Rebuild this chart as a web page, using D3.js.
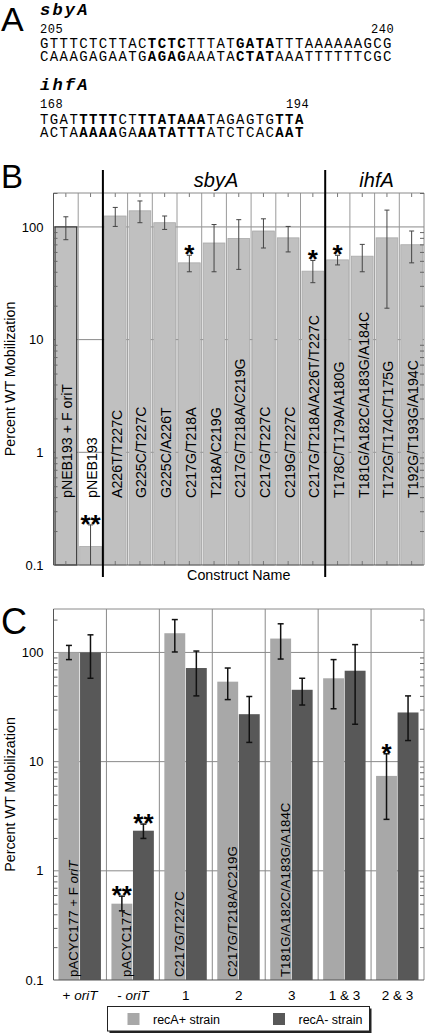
<!DOCTYPE html>
<html>
<head>
<meta charset="utf-8">
<script src="https://cdn.jsdelivr.net/npm/d3@7/dist/d3.min.js"></script>
<style>
  html, body { margin: 0; padding: 0; background: #fff; }
  svg { display: block; }
  text { font-family: "Liberation Sans", Arial, sans-serif; fill: #000; }
  .mono { font-family: "Liberation Mono", "Courier New", monospace; }
</style>
</head>
<body>
<div id="chart"></div>
<script>
// ---------------- Panel A data ----------------
const sbyStart = "205", sbyEnd = "240";
const sbyTop = [["GTTTCTCTTAC", 0], ["TCTC", 1], ["TTTAT", 0], ["GATA", 1], ["TTTAAAAAAGCG", 0]];
const sbyBottom = [["CAAAGAGAATG", 0], ["AGAG", 1], ["AAATA", 0], ["CTAT", 1], ["AAATTTTTTCGC", 0]];
const ihfStart = "168", ihfEnd = "194";
const ihfTop = [["TGAT", 0], ["TTTT", 1], ["CT", 0], ["TTATAAA", 1], ["TAGAGTG", 0], ["TTA", 1]];
const ihfBottom = [["ACTA", 0], ["AAAA", 1], ["GA", 0], ["AATATTT", 1], ["ATCTCAC", 0], ["AAT", 1]];

// ---------------- Panel B data ----------------
const bCategories = ["pNEB193 + F oriT", "pNEB193", "A226T/T227C", "G225C/T227C", "G225C/A226T",
  "C217G/T218A", "T218A/C219G", "C217G/T218A/C219G", "C217G/T227C", "C219G/T227C",
  "C217G/T218A/A226T/T227C", "T178C/T179A/A180G", "T181G/A182C/A183G/A184C",
  "T172G/T174C/T175G", "T192G/T193G/A194C"];
const bValues  = [100, 0.146, 125, 139, 109, 48, 72, 79, 92, 80, 40.5, 51, 55, 80, 69.5];
const bErrHigh = [123, 0.227, 149, 170, 125, 56, 105, 116, 118, 101, 50.4, 56, 70, 141, 92];
const bErrLow  = [77, 0.06, 101, 109, 95, 40, 40, 42, 65, 60, 32, 46, 40, 19, 48];
const bStars   = ["", "**", "", "", "", "*", "", "", "", "", "*", "*", "", "", ""];
const bGroupNames = ["sbyA", "ihfA"];
const bGroupFirst = ["A226T/T227C", "T178C/T179A/A180G"];
const bGroupLast  = ["C217G/T218A/A226T/T227C", "T192G/T193G/A194C"];

// ---------------- Panel C data ----------------
const cGroups = ["+ oriT", "- oriT", "1", "2", "3", "1 & 3", "2 & 3"];
const cSeries = ["recA+ strain", "recA- strain"];
const cRecAPlus      = [100, 0.5, 150, 54, 134, 58, 7.4];
const cRecAPlusHigh  = [116, 0.586, 200, 72, 183, 86, 11.8];
const cRecAPlusLow   = [86, 0.43, 101, 37, 87, 30.5, 2.96];
const cRecAMinus     = [100, 2.33, 72, 27.2, 45.5, 68, 28.2];
const cRecAMinusHigh = [145, 2.68, 103, 39.5, 58, 118, 40];
const cRecAMinusLow  = [58, 1.98, 40, 15, 33, 22, 15.6];
const cStarsPlus  = ["", "**", "", "", "", "", "*"];
const cStarsMinus = ["", "**", "", "", "", "", ""];
const cBarLabels = ["pACYC177 + F oriT", "pACYC177", "C217G/T227C", "C217G/T218A/C219G", "T181G/A182C/A183G/A184C", "", ""];

// ---------------- Shared ----------------
const yMajor = [0.1, 1, 10, 100];
const yMajorLabels = ["0.1", "1", "10", "100"];
const colBarB = "#c0c0c0", colPlus = "#a8a8a8", colMinus = "#585858";

const W = 425, H = 1034;
const svg = d3.select("#chart").append("svg").attr("width", W).attr("height", H);

// helper: text with italic "oriT"
function italicOriT(sel, str) {
  const parts = str.split("oriT");
  parts.forEach((p, i) => {
    if (p) sel.append("tspan").text(p);
    if (i < parts.length - 1) sel.append("tspan").attr("font-style", "italic").text("oriT");
  });
}

// ================= Panel A =================
const gA = svg.append("g");
gA.append("text").attr("x", 1).attr("y", 31).attr("font-size", 34).text("A");
function seqLine(y, segs) {
  const t = gA.append("text").attr("class", "mono").attr("x", 40).attr("y", y)
    .attr("font-size", 14).attr("letter-spacing", "1.4px");
  segs.forEach(s => t.append("tspan").attr("font-weight", s[1] ? "bold" : "normal").text(s[0]));
}
function heading(y, s) {
  gA.append("text").attr("class", "mono").attr("x", 40).attr("y", y).attr("font-size", 17)
    .attr("font-weight", "bold").attr("font-style", "italic").attr("letter-spacing", "2.2px").text(s);
}
function num(x, y, s) {
  gA.append("text").attr("class", "mono").attr("x", x).attr("y", y).attr("font-size", 12)
    .attr("letter-spacing", "0.6px").text(s);
}
heading(15, "sbyA");
num(40, 33, sbyStart);
num(371, 33, sbyEnd);
seqLine(47.5, sbyTop);
seqLine(60.5, sbyBottom);
heading(90, "ihfA");
num(40, 108, ihfStart);
num(286, 108, ihfEnd);
seqLine(123.5, ihfTop);
seqLine(136.5, ihfBottom);

// ================= common plot frame =================
function frame(g, x0, x1, y) {
  g.append("g").selectAll("line").data(yMajor.slice(1)).join("line")
    .attr("x1", x0).attr("x2", x1).attr("y1", d => y(d)).attr("y2", d => y(d))
    .attr("stroke", "#8a8a8a").attr("stroke-width", 1);
}
function frameTop(g, x0, x1, y, yTop, yBot, minors) {
  g.append("line").attr("x1", x0).attr("x2", x1).attr("y1", yTop).attr("y2", yTop).attr("stroke", "#8a8a8a");
  g.append("line").attr("x1", x1).attr("x2", x1).attr("y1", yTop).attr("y2", yBot).attr("stroke", "#8a8a8a");
  g.append("line").attr("x1", x0).attr("x2", x0).attr("y1", yTop).attr("y2", yBot).attr("stroke", "#555");
  g.append("line").attr("x1", x0).attr("x2", x1).attr("y1", yBot).attr("y2", yBot).attr("stroke", "#555");
  g.append("g").attr("transform", `translate(${x0},0)`)
    .call(d3.axisRight(y).tickValues(minors).tickSize(4).tickFormat(""))
    .call(a => a.select(".domain").remove())
    .call(a => a.selectAll("line").attr("stroke", "#666"));
  g.append("g").attr("transform", `translate(${x1},0)`)
    .call(d3.axisLeft(y).tickValues(minors).tickSize(4).tickFormat(""))
    .call(a => a.select(".domain").remove())
    .call(a => a.selectAll("line").attr("stroke", "#666"));
  g.append("g").attr("transform", `translate(${x0},0)`)
    .call(d3.axisLeft(y).tickValues(yMajor).tickSize(0).tickPadding(10)
      .tickFormat((d, i) => yMajorLabels[i]))
    .call(a => a.select(".domain").remove())
    .call(a => a.selectAll("text").attr("font-size", 13).attr("font-family", "Liberation Sans, Arial, sans-serif").attr("fill", "#000"));
}

// ================= Panel B =================
const gB = svg.append("g");
const bL = 53.5, bR = 424, bT = 193, bB = 565;
const bx = d3.scaleBand().domain(bCategories).range([bL, bR]);
const by = d3.scaleLog().domain([0.1, 200]).range([bB, bT]);
const bw = bx.bandwidth();
const minorsB = [];
[0.1, 1, 10, 100].forEach(dec => { for (let k = 2; k <= 9; k++) { const v = dec * k; if (v <= 200) minorsB.push(v); } });

gB.append("text").attr("x", 1).attr("y", 188).attr("font-size", 33).text("B");
frame(gB, bL, bR, by);
gB.append("g").selectAll("line").data(bCategories.slice(1)).join("line")
  .attr("x1", d => bx(d)).attr("x2", d => bx(d)).attr("y1", bT).attr("y2", bB)
  .attr("stroke", "#9a9a9a");
gB.append("g").selectAll("rect").data(bCategories).join("rect")
  .attr("x", d => bx(d) + 1.5).attr("width", bw - 3)
  .attr("y", (d, i) => by(bValues[i])).attr("height", (d, i) => bB - by(bValues[i]))
  .attr("fill", colBarB)
  .attr("stroke", (d, i) => i === 0 ? "#333" : "#a9a9a9").attr("stroke-width", (d, i) => i === 0 ? 1.2 : 0.8);
gB.append("g").attr("transform", `translate(0,${bT})`)
  .call(d3.axisBottom(bx).tickSize(4).tickFormat(""))
  .call(a => a.select(".domain").remove()).call(a => a.selectAll("line").attr("stroke", "#777"));
gB.append("g").attr("transform", `translate(0,${bB})`)
  .call(d3.axisTop(bx).tickSize(4).tickFormat(""))
  .call(a => a.select(".domain").remove()).call(a => a.selectAll("line").attr("stroke", "#777"));
frameTop(gB, bL, bR, by, bT, bB, minorsB);
const eB = gB.append("g").attr("stroke", "#444").attr("stroke-width", 1);
bCategories.forEach((c, i) => {
  const cx = bx(c) + bw / 2;
  const yh = by(bErrHigh[i]), yl = bErrLow[i] < 0.1 ? bB : by(bErrLow[i]);
  eB.append("line").attr("x1", cx).attr("x2", cx).attr("y1", yh).attr("y2", yl);
  eB.append("line").attr("x1", cx - 2.5).attr("x2", cx + 2.5).attr("y1", yh).attr("y2", yh);
  if (bErrLow[i] >= 0.1) eB.append("line").attr("x1", cx - 2.5).attr("x2", cx + 2.5).attr("y1", yl).attr("y2", yl);
});
gB.append("g").selectAll("text").data(bCategories).join("text")
  .attr("x", d => bx(d) + bw / 2).attr("y", (d, i) => by(bErrHigh[i]) + 8)
  .attr("text-anchor", "middle").attr("font-size", 26).attr("font-weight", "bold")
  .text((d, i) => bStars[i]);
gB.append("g").selectAll("text").data(bCategories).join("text")
  .attr("transform", d => `translate(${bx(d) + bw / 2 + 6.5},498) rotate(-90)`)
  .attr("font-size", 14.2).text(d => d);
bGroupFirst.forEach(c => {
  gB.append("line").attr("x1", bx(c)).attr("x2", bx(c)).attr("y1", 170).attr("y2", 577)
    .attr("stroke", "#000").attr("stroke-width", 2);
});
bGroupNames.forEach((n, i) => {
  const xa = bx(bGroupFirst[i]), xb = bx(bGroupLast[i]) + bw;
  gB.append("text").attr("x", (xa + xb) / 2 + 2).attr("y", 187).attr("text-anchor", "middle")
    .attr("font-size", 20).attr("font-style", "italic").text(n);
});
gB.append("text").attr("x", (bL + bR) / 2).attr("y", 580).attr("text-anchor", "middle")
  .attr("font-size", 14.3).text("Construct Name");
gB.append("text").attr("transform", `translate(15,${(bT + bB) / 2}) rotate(-90)`)
  .attr("text-anchor", "middle").attr("font-size", 14.3).text("Percent WT Mobilization");

// ================= Panel C =================
const gC = svg.append("g");
const cL = 53.5, cR = 424, cT = 609, cB = 980;
const cx0 = d3.scaleBand().domain(cGroups).range([cL, cR]);
const cx1 = d3.scaleBand().domain(cSeries).range([5, cx0.bandwidth() - 5.5]).paddingInner(0.03);
const cy = d3.scaleLog().domain([0.1, 250]).range([cB, cT]);
const minorsC = [];
[0.1, 1, 10, 100].forEach(dec => { for (let k = 2; k <= 9; k++) { const v = dec * k; if (v <= 250) minorsC.push(v); } });

gC.append("text").attr("x", 1).attr("y", 634).attr("font-size", 36).text("C");
frame(gC, cL, cR, cy);
gC.append("g").selectAll("line").data(cGroups.slice(1)).join("line")
  .attr("x1", d => cx0(d)).attr("x2", d => cx0(d)).attr("y1", cT).attr("y2", cB)
  .attr("stroke", "#8a8a8a");
const cData = [
  { s: cSeries[0], v: cRecAPlus, hi: cRecAPlusHigh, lo: cRecAPlusLow, star: cStarsPlus, col: colPlus },
  { s: cSeries[1], v: cRecAMinus, hi: cRecAMinusHigh, lo: cRecAMinusLow, star: cStarsMinus, col: colMinus }
];
cData.forEach(ser => {
  gC.append("g").selectAll("rect").data(cGroups).join("rect")
    .attr("x", d => cx0(d) + cx1(ser.s)).attr("width", cx1.bandwidth())
    .attr("y", (d, i) => cy(ser.v[i])).attr("height", (d, i) => cB - cy(ser.v[i]))
    .attr("fill", ser.col);
});
frameTop(gC, cL, cR, cy, cT, cB, minorsC);
gC.append("g").selectAll("text").data(cGroups).join("text")
  .attr("transform", d => `translate(${cx0(d) + cx1(cSeries[0]) + cx1.bandwidth() - 1},977) rotate(-90)`)
  .attr("font-size", 13.3)
  .each(function (d, i) { italicOriT(d3.select(this), cBarLabels[i]); });
cData.forEach(ser => {
  const eg = gC.append("g").attr("stroke", "#111").attr("stroke-width", 1.5);
  cGroups.forEach((g, i) => {
    const xc = cx0(g) + cx1(ser.s) + cx1.bandwidth() / 2;
    const yh = cy(ser.hi[i]), yl = cy(ser.lo[i]);
    eg.append("line").attr("x1", xc).attr("x2", xc).attr("y1", yh).attr("y2", yl);
    eg.append("line").attr("x1", xc - 3).attr("x2", xc + 3).attr("y1", yh).attr("y2", yh);
    eg.append("line").attr("x1", xc - 3).attr("x2", xc + 3).attr("y1", yl).attr("y2", yl);
    if (ser.star[i]) {
      gC.append("text").attr("x", xc).attr("y", yh + 8).attr("text-anchor", "middle")
        .attr("font-size", 26).attr("font-weight", "bold").text(ser.star[i]);
    }
  });
});
gC.append("g").selectAll("text").data(cGroups).join("text")
  .attr("x", d => cx0(d) + cx0.bandwidth() / 2).attr("y", 1000).attr("text-anchor", "middle")
  .attr("font-size", 13.5)
  .each(function (d) { italicOriT(d3.select(this), d); });
gC.append("text").attr("transform", `translate(15,${(cT + cB) / 2}) rotate(-90)`)
  .attr("text-anchor", "middle").attr("font-size", 14.3).text("Percent WT Mobilization");

// legend
const lg = gC.append("g");
lg.append("rect").attr("x", 109.5).attr("y", 1008.5).attr("width", 262).attr("height", 24.5).attr("fill", "#222");
lg.append("rect").attr("x", 107.5).attr("y", 1006.5).attr("width", 262).attr("height", 24.5)
  .attr("fill", "#fff").attr("stroke", "#222").attr("stroke-width", 1);
const legX = [127.5, 273];
cSeries.forEach((s, i) => {
  lg.append("rect").attr("x", legX[i]).attr("y", 1013).attr("width", 12).attr("height", 12)
    .attr("fill", cData[i].col);
  lg.append("text").attr("x", legX[i] + 25.5).attr("y", 1023.5).attr("font-size", 12.5).text(s);
});
</script>
</body>
</html>
